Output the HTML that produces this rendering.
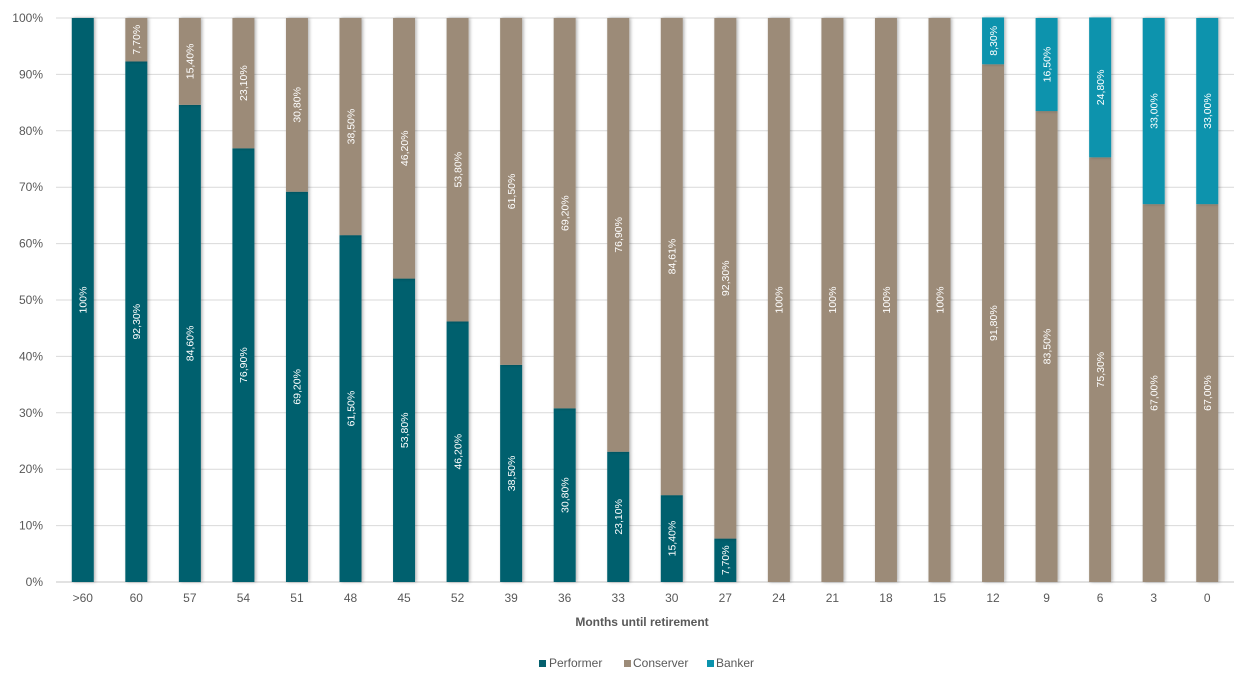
<!DOCTYPE html>
<html><head><meta charset="utf-8"><style>
html,body{margin:0;padding:0;background:#fff;}
svg{display:block;font-family:"Liberation Sans",Arial,sans-serif;}
</style></head><body>
<svg id="c" width="1245" height="686" xmlns="http://www.w3.org/2000/svg">
<defs><filter id="sh" x="-30%" y="-5%" width="160%" height="110%"><feDropShadow dx="1.5" dy="0" stdDeviation="1.5" flood-color="#000" flood-opacity="0.3"/></filter></defs>
<g id="grid"></g><g id="bars"></g><g id="lbl"></g>
<text x="642" y="626" text-anchor="middle" font-size="12" font-weight="bold" fill="#595959">Months until retirement</text>
<rect x="539" y="660" width="7" height="7" fill="#04606e"/><text x="549" y="667" font-size="12" fill="#595959">Performer</text>
<rect x="624" y="660" width="7" height="7" fill="#9c8b78"/><text x="633" y="667" font-size="12" fill="#595959">Conserver</text>
<rect x="707" y="660" width="7" height="7" fill="#0b93ad"/><text x="716" y="667" font-size="12" fill="#595959">Banker</text>
</svg>
<script>
var cats=[">60","60","57","54","51","48","45","52","39","36","33","30","27","24","21","18","15","12","9","6","3","0"];
var P=[100,92.3,84.6,76.9,69.2,61.5,53.8,46.2,38.5,30.8,23.1,15.4,7.7,0,0,0,0,0,0,0,0,0];
var C=[0,7.7,15.4,23.1,30.8,38.5,46.2,53.8,61.5,69.2,76.9,84.61,92.3,100,100,100,100,91.8,83.5,75.3,67,67];
var B=[0,0,0,0,0,0,0,0,0,0,0,0,0,0,0,0,0,8.3,16.5,24.8,33,33];
var PL=["100%","92,30%","84,60%","76,90%","69,20%","61,50%","53,80%","46,20%","38,50%","30,80%","23,10%","15,40%","7,70%"];
var CL=["","7,70%","15,40%","23,10%","30,80%","38,50%","46,20%","53,80%","61,50%","69,20%","76,90%","84,61%","92,30%","100%","100%","100%","100%","91,80%","83,50%","75,30%","67,00%","67,00%"];
var BL=["","","","","","","","","","","","","","","","","","8,30%","16,50%","24,80%","33,00%","33,00%"];
var ns="http://www.w3.org/2000/svg";
function el(p,t,a,txt){var e=document.createElementNS(ns,t);for(var k in a)e.setAttribute(k,a[k]);if(txt!=null)e.textContent=txt;document.getElementById(p).appendChild(e);return e;}
var y0=582,H=564,x0=56,x1=1234,step=(x1-x0)/22,bw=22;
function Y(v){return y0-v/100*H;}
for(var i=0;i<=10;i++){var y=Y(i*10);el("grid","line",{x1:x0,x2:x1,y1:y,y2:y,stroke:i==0?"#d9d9d9":"#d9d9d9","stroke-width":i==0?1.5:1});
el("grid","text",{x:43,y:y+4,"text-anchor":"end","font-size":"12",fill:"#595959"},i*10+"%");}
for(var j=0;j<22;j++){var cx=x0+step*(j+0.5),bx=cx-bw/2,base=0;
var segs=[[P[j],"#04606e",PL[j]],[C[j],"#9c8b78",CL[j]],[B[j],"#0b93ad",BL[j]]];
segs.forEach(function(s){if(s[0]>0){var yt=Y(base+s[0]),yb=Y(base);
el("bars","rect",{x:bx,y:yt,width:bw,height:yb-yt,fill:s[1],filter:"url(#sh)"});
if(s[2]){var ym=(yt+yb)/2;el("lbl","text",{x:cx,y:ym,"text-anchor":"middle","font-size":"10.5",fill:"#fff",transform:"rotate(-90 "+cx+" "+ym+") translate(0 3.8)"},s[2]);}
base+=s[0];}});
el("lbl","text",{x:cx,y:602,"text-anchor":"middle","font-size":"12",fill:"#595959"},cats[j]);}
</script>
</body></html>
